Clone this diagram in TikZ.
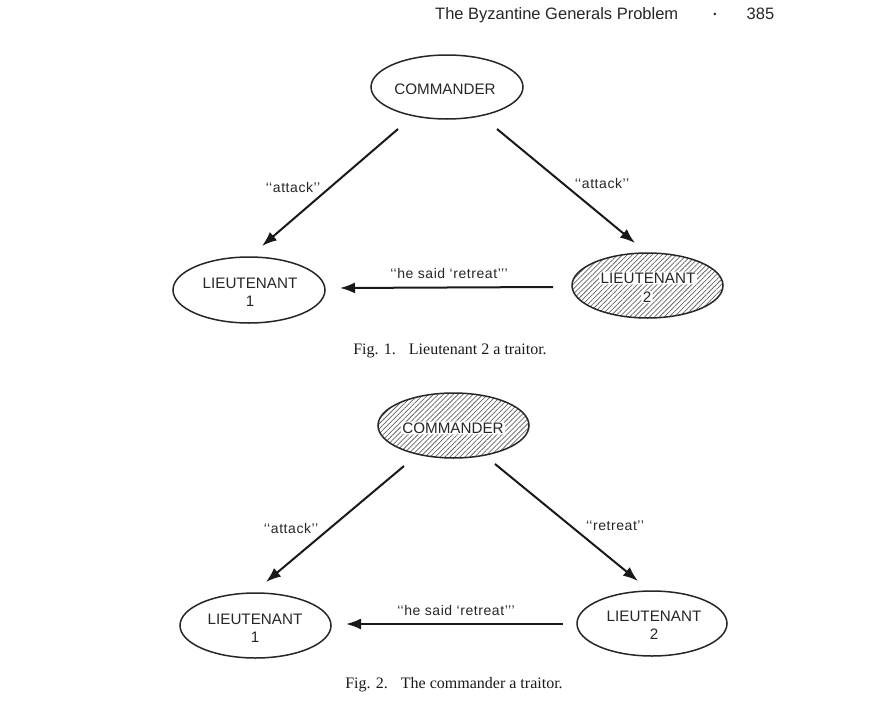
\documentclass[tikz,border=0pt]{standalone}
\usepackage{fontspec}
\setmainfont{Liberation Serif}
\newfontfamily\hv{Liberation Sans}
\newfontfamily\hvs[LetterSpace=4]{Liberation Sans}
\usetikzlibrary{patterns.meta,arrows.meta,shapes.geometric}
\tikzset{
 gen/.style={draw=black!85,line width=1.5pt,ellipse,inner sep=0pt},
 gtext/.style={inner sep=0pt,font=\hv\fontsize{15.2}{18.2}\selectfont,align=center,text=black!85},
 traitor/.style={draw=black!85,line width=1.5pt,ellipse,inner sep=0pt,pattern={Lines[angle=45,distance=3.5pt,line width=0.75pt]},pattern color=black!60},
 hole/.style={fill=white,rounded corners=3pt,inner xsep=1.5pt,inner ysep=1pt,font=\hv\fontsize{15.2}{18.5}\selectfont,text=black!85},
 arr/.style={-{Latex[length=15pt,width=11pt]},line width=2pt,black!90},
 lab/.style={font=\hvs\fontsize{14}{15}\selectfont,text=black!85,inner sep=0pt},
 figcap/.style={font=\fontsize{16}{18}\selectfont,text=black!90,inner sep=0pt},
 head/.style={font=\hv\fontsize{16.5}{18}\selectfont,text=black!85,inner sep=0pt}
}
\begin{document}
\begin{tikzpicture}[x=1pt,y=-1pt]
\useasboundingbox (0,0) rectangle (892,704);
\node[head,anchor=west] (hd) at (435,15) {The Byzantine Generals Problem};
\node[head,font=\hv\fontsize{9}{9}\selectfont] (dot) at (715,15) {•};
\node[head] (pg) at (760.5,14) {385};
\node[gen,minimum width=152pt,minimum height=64pt] (c1) at (447,87) {};
\node[gtext] (c1t) at (445,89) {COMMANDER};
\node[gen,minimum width=152pt,minimum height=66pt] (l1) at (249,290) {};
\node[gtext] (l1t) at (250,292) {LIEUTENANT\\1};
\node[traitor,minimum width=151pt,minimum height=65pt] (l2) at (647.5,285.5) {};
\node[hole] (l2t) at (648,278) {LIEUTENANT};
\node[hole] (l2n) at (647,297) {2};
\coordinate (a1s) at (398,129);\coordinate (a1e) at (262,246);
\coordinate (a2s) at (497,129);\coordinate (a2e) at (635,243);
\coordinate (a3s) at (553,287);\coordinate (a3e) at (340,288);
\draw[arr] (a1s)--(a1e);\draw[arr] (a2s)--(a2e);\draw[arr] (a3s)--(a3e);
\node[lab] (t1) at (293,187) {‘‘attack’’};
\node[lab] (t2) at (602,183) {‘‘attack’’};
\node[lab] (t3) at (449,273) {‘‘he said ‘retreat’’’};
\node[figcap] (f1) at (450,351) {Fig. 1.\hspace{13pt}Lieutenant 2 a traitor.};
\node[traitor,minimum width=151pt,minimum height=65pt] (c2) at (453.5,425.5) {};
\node[hole] (c2t) at (453,428) {COMMANDER};
\node[gen,minimum width=151pt,minimum height=65pt] (m1) at (255.5,625.5) {};
\node[gtext] (m1t) at (255,628) {LIEUTENANT\\1};
\node[gen,minimum width=150pt,minimum height=65pt] (m2) at (652,623.5) {};
\node[gtext] (m2t) at (654,625.5) {LIEUTENANT\\2};
\coordinate (b1s) at (404,466);\coordinate (b1e) at (266,582);
\coordinate (b2s) at (495,464);\coordinate (b2e) at (638,581);
\coordinate (b3s) at (563,624);\coordinate (b3e) at (346,624);
\draw[arr] (b1s)--(b1e);\draw[arr] (b2s)--(b2e);\draw[arr] (b3s)--(b3e);
\node[lab] (u1) at (291,528) {‘‘attack’’};
\node[lab] (u2) at (615,526) {‘‘retreat’’};
\node[lab] (u3) at (456,610) {‘‘he said ‘retreat’’’};
\node[figcap] (f2) at (454,685) {Fig. 2.\hspace{13pt}The commander a traitor.};
\end{tikzpicture}
\end{document}
